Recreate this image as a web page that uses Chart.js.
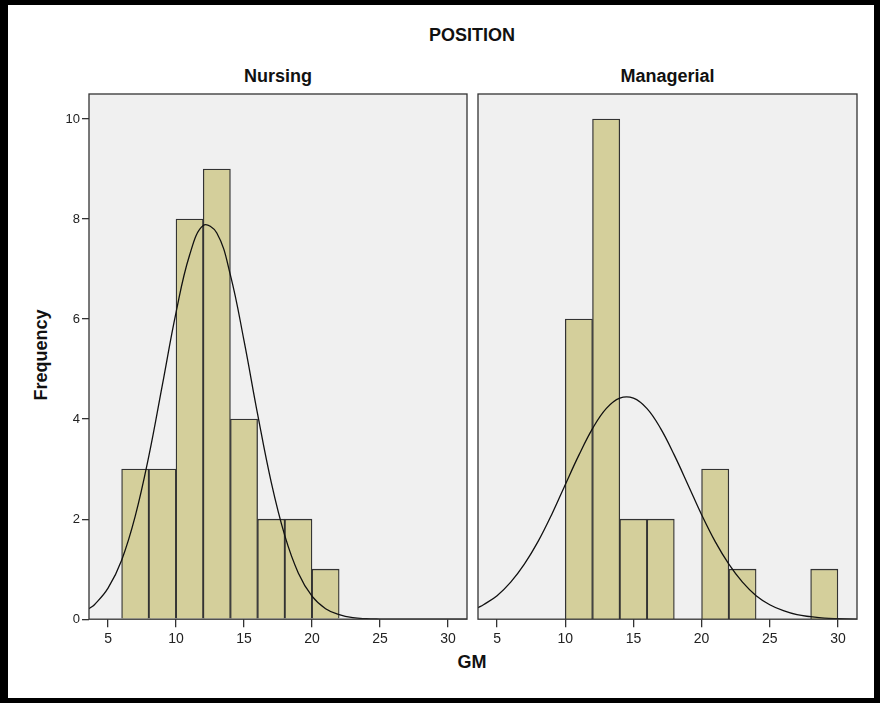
<!DOCTYPE html>
<html>
<head>
<meta charset="utf-8">
<script src="https://cdn.jsdelivr.net/npm/chart.js@4/dist/chart.umd.min.js"></script>
<style>
  html, body { margin: 0; padding: 0; background: #fff; }
  body { width: 880px; height: 703px; position: relative; overflow: hidden; font-family: "Liberation Sans", Arial, sans-serif; }
  .frame { position: absolute; left: 0; top: 0; width: 880px; height: 703px; box-sizing: border-box;
    border-left: 8px solid #000; border-top: 5px solid #000; border-right: 6px solid #000; border-bottom: 5px solid #000; }
  .txt { position: absolute; font-weight: bold; color: #111; white-space: nowrap; }
  .cv { position: absolute; }
</style>
</head>
<body>
<div class="frame"></div>
<div class="txt" id="title" style="left:0;width:944px;top:25px;text-align:center;font-size:18px;">POSITION</div>
<div class="txt" style="left:89px;width:378px;top:66px;text-align:center;font-size:18px;">Nursing</div>
<div class="txt" style="left:478px;width:379px;top:66px;text-align:center;font-size:18px;">Managerial</div>
<div class="txt" style="left:0;width:944px;top:652px;text-align:center;font-size:18px;">GM</div>
<div class="txt" style="left:41px;top:355px;font-size:18px;transform:translate(-50%,-50%) rotate(-90deg);">Frequency</div>

<div class="cv" style="left:40px;top:83px;width:432px;height:569px;"><canvas id="nursing"></canvas></div>
<div class="cv" style="left:472px;top:83px;width:390px;height:569px;"><canvas id="managerial"></canvas></div>

<script>
// histogram bins (centres of 2-wide bins) and counts
const nursingBins = [7, 9, 11, 13, 15, 17, 19, 21];
const nursingCounts = [3, 3, 8, 9, 4, 2, 2, 1];
const managerialBins = [11, 13, 15, 17, 21, 23, 29];
const managerialCounts = [6, 10, 2, 2, 3, 1, 1];

// normal curve
const curveX = [3.6, 4, 5, 6, 7, 8, 9, 10, 11, 12, 13, 14, 15, 16, 17, 18, 19, 20, 21, 22, 23, 24, 25, 26, 27, 28, 29, 30, 31.4];
const nursingCurve = [0.21, 0.29, 0.62, 1.18, 2.06, 3.26, 4.69, 6.13, 7.28, 7.87, 7.72, 6.88, 5.57, 4.1, 2.74, 1.67, 0.92, 0.46, 0.21, 0.09, 0.03, 0.01, 0.003, 0, 0, 0, 0, 0, 0];
const managerialCurve = [0.23, 0.29, 0.47, 0.74, 1.1, 1.55, 2.09, 2.69, 3.28, 3.81, 4.21, 4.42, 4.42, 4.21, 3.81, 3.28, 2.69, 2.09, 1.55, 1.1, 0.74, 0.47, 0.29, 0.17, 0.09, 0.05, 0.02, 0.01, 0.003];

const xTicks = [5, 10, 15, 20, 25, 30];
const yTicks = [0, 2, 4, 6, 8, 10];

const barFill = '#d4cf9b';
const edge = '#333';

// panel background + box
const panelBox = {
  id: 'panelBox',
  beforeDatasetsDraw(chart) {
    const { ctx, chartArea: a } = chart;
    ctx.save();
    ctx.fillStyle = '#f0f0f0';
    ctx.fillRect(a.left, a.top, a.right - a.left, a.bottom - a.top);
    ctx.restore();
  },
  afterDatasetsDraw(chart) {
    const { ctx, chartArea: a } = chart;
    ctx.save();
    ctx.strokeStyle = edge;
    ctx.lineWidth = 1.3;
    ctx.strokeRect(a.left, a.top, a.right - a.left, a.bottom - a.top);
    ctx.restore();
  }
};

function makeChart(id, bins, counts, curve, showY) {
  const bars = bins.map((b, i) => ({ x: b, y: counts[i] }));
  const line = curveX.map((x, i) => ({ x: x, y: curve[i] }));
  return new Chart(document.getElementById(id), {
    type: 'bar',
    data: {
      datasets: [
        {
          type: 'line',
          data: line,
          borderColor: '#111',
          borderWidth: 1.3,
          pointRadius: 0,
          tension: 0.4,
          fill: false,
          order: 0
        },
        {
          data: bars,
          backgroundColor: barFill,
          borderColor: edge,
          borderWidth: 1.3,
          barPercentage: 1,
          categoryPercentage: 1,
          order: 1
        }
      ]
    },
    options: {
      responsive: true,
      maintainAspectRatio: false,
      animation: false,
      layout: { padding: { top: 11, right: 5, left: 0, bottom: 0 } },
      plugins: { legend: { display: false }, tooltip: { enabled: false } },
      scales: {
        x: {
          type: 'linear',
          min: 3.6,
          max: 31.4,
          offset: false,
          afterBuildTicks: (s) => { s.ticks = xTicks.map(v => ({ value: v })); },
          grid: { display: true, offset: false, drawOnChartArea: false, tickLength: 8, color: edge, lineWidth: 1.3 },
          border: { display: false },
          ticks: { color: '#222', font: { family: 'Liberation Sans', size: 14 }, padding: 4, maxRotation: 0 }
        },
        y: {
          min: 0,
          max: 10.5,
          afterBuildTicks: (s) => { s.ticks = yTicks.map(v => ({ value: v })); },
          afterFit: (s) => { s.width = showY ? 49 : 6; },
          grid: { display: showY, drawOnChartArea: false, tickLength: 7, color: edge, lineWidth: 1.3 },
          border: { display: false },
          ticks: { display: showY, color: '#222', font: { family: 'Liberation Sans', size: 13 }, padding: 2 }
        }
      }
    },
    plugins: [panelBox]
  });
}

makeChart('nursing', nursingBins, nursingCounts, nursingCurve, true);
makeChart('managerial', managerialBins, managerialCounts, managerialCurve, false);
</script>
</body>
</html>
